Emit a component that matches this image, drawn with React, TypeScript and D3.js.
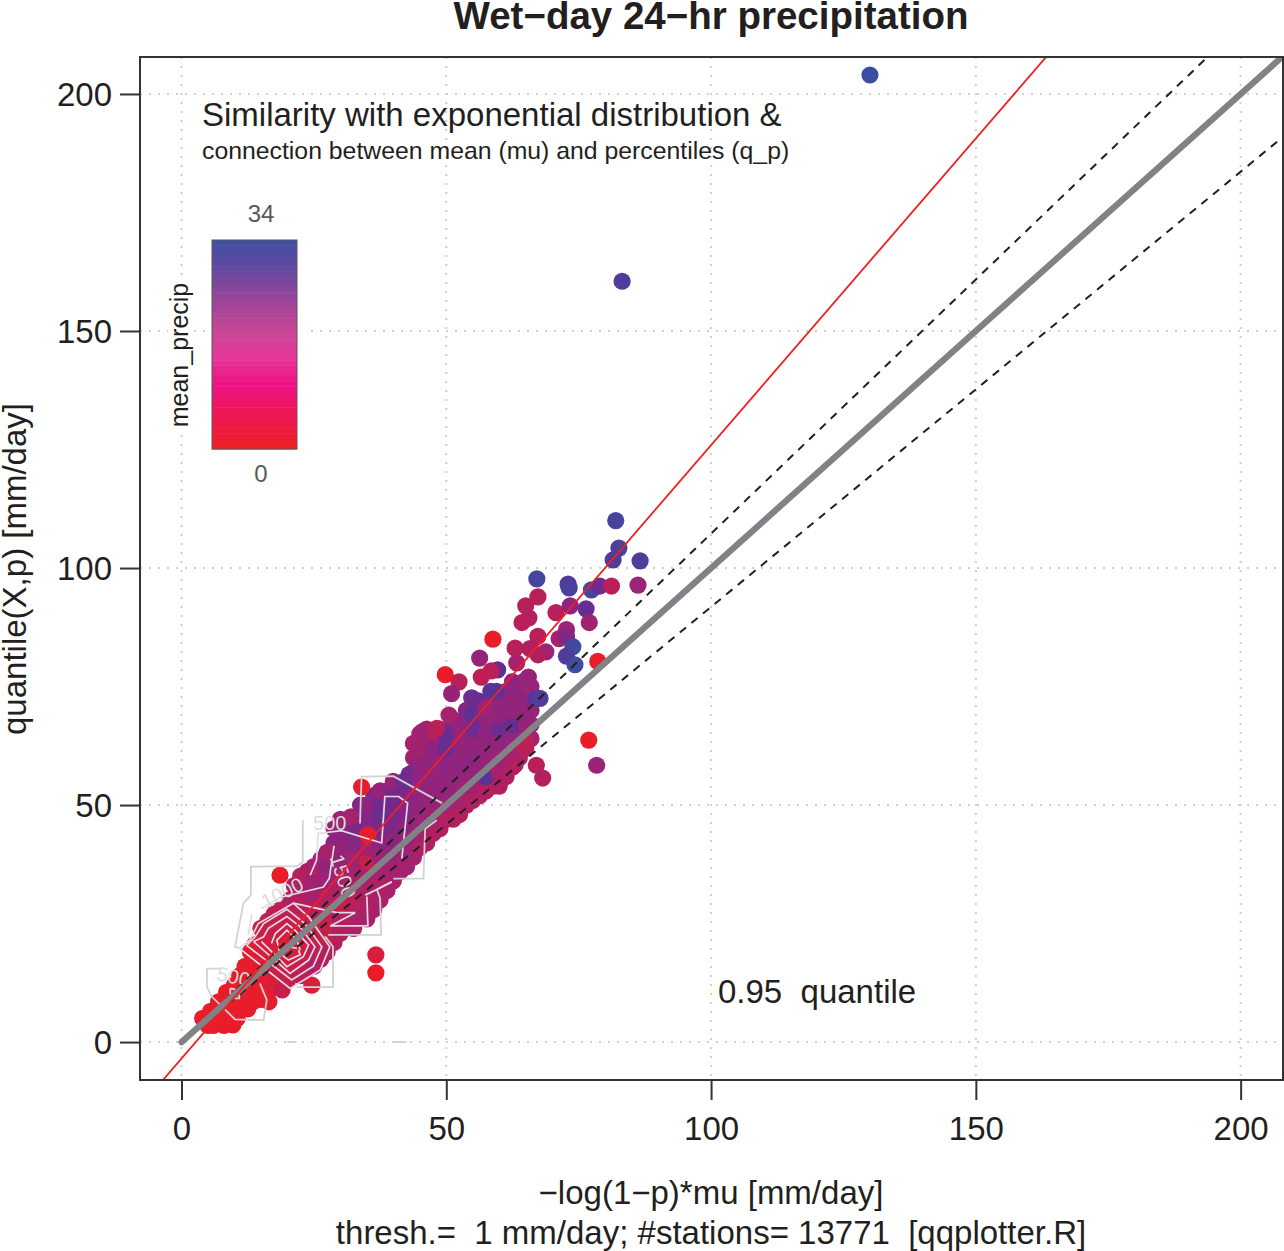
import { useRef, useEffect } from "react";
import * as d3 from "d3";

const width = 1284;
const height = 1251;
const margin = { top: 57, right: 1, bottom: 171, left: 140 };

const tickValues = [0, 50, 100, 150, 200];

// reference lines: [slope, intercept]
const redLine = [1.294, -3.47];
const upperDashed = [1.0725, 0];
const lowerDashed = [0.918, 0];
const greyLine = [1, 0];

// [x, y, mean_precip] stations packed in the core of the cloud, drawn first
const corePoints: [number, number, number][] = [
  [7, 6, 1], [8, 3.5, 1], [8.5, 10.5, 1], [10.5, 5, 1], [11, 11, 1], [11, 14, 2], [12.5, 7, 1], [13.5, 8.5, 2],
  [13.8, 11.5, 2], [13.8, 14.5, 2], [13.8, 17.5, 3], [13.8, 20.5, 5], [16.3, 10.5, 3], [16.3, 13.5, 3], [16.3, 16.5, 4], [16.3, 19.5, 5], [16.3, 22.5, 7], [16.3, 25.5, 9],
  [18.8, 13.5, 6], [18.8, 16.5, 6], [18.8, 19.5, 6], [18.8, 22.5, 7], [18.8, 25.5, 8], [18.8, 28, 10],
  [21.3, 15.5, 9], [21.3, 18.5, 7], [21.3, 21.5, 7], [21.3, 24.5, 8], [21.3, 27.5, 9], [21.3, 30.5, 11], [21.3, 33, 13],
  [23.8, 15.5, 11], [23.8, 18.5, 9], [23.8, 21.5, 8], [23.8, 24.5, 8], [23.8, 27.5, 10], [23.8, 30.5, 12], [23.8, 33.5, 15], [23.8, 36, 14],
  [26.3, 17.5, 12], [26.3, 20.5, 10], [26.3, 23.5, 9], [26.3, 26.5, 10], [26.3, 29.5, 12], [26.3, 32.5, 15], [26.3, 35.5, 17], [26.3, 38.5, 16],
  [28.8, 21, 12], [28.8, 24, 10], [28.8, 27, 9], [28.8, 30, 11], [28.8, 33, 15], [28.8, 36, 18], [28.8, 39, 19], [28.8, 42, 20], [28.8, 45, 18],
  [31.3, 24.5, 12], [31.3, 27.5, 12], [31.3, 30.5, 11], [31.3, 33.5, 14], [31.3, 36.5, 17], [31.3, 39.5, 20], [31.3, 42.5, 22], [31.3, 45.5, 22],
  [33.8, 26, 14], [33.8, 29, 13], [33.8, 32, 13], [33.8, 35, 15], [33.8, 38, 14], [33.8, 41, 19], [33.8, 44, 22], [33.8, 47, 24], [33.8, 50, 22],
  [36.3, 28, 14], [36.3, 31, 13], [36.3, 34, 14], [36.3, 37, 16], [36.3, 40, 18], [36.3, 43, 21], [36.3, 46, 24], [36.3, 49, 25], [36.3, 52, 22],
  [38.8, 32, 14], [38.8, 35, 15], [38.8, 38, 17], [38.8, 41, 19], [38.8, 44, 22], [38.8, 47, 24], [38.8, 50, 25], [38.8, 53, 22],
  [41.3, 36, 14], [41.3, 39, 16], [41.3, 42, 18], [41.3, 45, 20], [41.3, 48, 22], [41.3, 51, 23], [41.3, 54, 24],
  [43.8, 39, 14], [43.8, 42, 15], [43.8, 45, 17], [43.8, 48, 19], [43.8, 51, 20], [43.8, 54, 20], [43.8, 57, 19], [43.8, 60, 16], [43.8, 63, 15],
  [46.3, 42, 13], [46.3, 45, 15], [46.3, 48, 17], [46.3, 51, 19], [46.3, 54, 19], [46.3, 57, 19], [46.3, 60, 19], [46.3, 63, 18], [46.3, 66, 14],
  [48.8, 45, 12], [48.8, 48, 15], [48.8, 51, 18], [48.8, 54, 19], [48.8, 57, 19], [48.8, 60, 19], [48.8, 63, 20], [48.8, 66, 18],
  [51.3, 47, 12], [51.3, 50, 15], [51.3, 53, 18], [51.3, 56, 19], [51.3, 59, 19], [51.3, 62, 19], [51.3, 65, 19], [51.3, 68, 18],
  [53.8, 50, 12], [53.8, 53, 16], [53.8, 56, 18], [53.8, 59, 19], [53.8, 62, 19], [53.8, 65, 19], [53.8, 68, 20], [53.8, 70, 22],
  [56.3, 52, 13], [56.3, 55, 16], [56.3, 58, 18], [56.3, 61, 19], [56.3, 64, 19], [56.3, 67, 19], [56.3, 70, 20],
  [58.8, 54, 12], [58.8, 57, 15], [58.8, 60, 18], [58.8, 63, 19], [58.8, 66, 19], [58.8, 69, 19], [58.8, 72, 19],
  [61.3, 56, 12], [61.3, 59, 15], [61.3, 62, 18], [61.3, 65, 19], [61.3, 68, 19], [61.3, 71, 19], [61.3, 74, 20],
  [63.8, 60, 13], [63.8, 63, 16], [63.8, 66, 19], [63.8, 69, 19], [63.8, 72, 19], [63.8, 75, 20],
  [66, 64, 15], [66, 67, 18], [66, 70, 19], [66, 73, 19],
];

const bandPoints: [number, number, number][] = [
  [4, 5, 1], [5, 3.5, 1], [5.5, 6.5, 1], [6, 3.5, 1], [6.5, 5, 1], [7, 8.5, 1], [7.5, 4, 1], [8, 6.5, 1],
  [9.7, 3.6, 1], [9, 9, 1], [9.5, 6, 1], [10, 12, 1], [10.5, 8.5, 1], [11.5, 7, 1], [12, 10, 2], [12.5, 13, 2],
  [12, 16, 2], [13, 19, 3], [15, 9, 2], [15, 12, 2], [15, 15, 3], [15, 18, 5], [15, 21, 5], [15, 24, 8],
  [16.5, 8.5, 2], [17.5, 12, 4], [17.5, 15, 7], [17.5, 18, 5], [17.5, 21, 6], [17.5, 24, 8], [17.5, 27, 10],
  [19, 11, 8], [20, 13, 9], [20, 16, 7], [20, 19, 5], [20, 22, 6], [20, 25, 8], [20, 28, 10], [20.5, 30, 12],
  [22.5, 14, 11], [22.5, 17, 8], [22.5, 20, 6], [22.5, 23, 7], [22.5, 26, 9], [22.5, 29, 11], [22.5, 32, 14], [22.5, 35, 12],
  [25, 16, 13], [25, 19, 10], [25, 22, 8], [25, 25, 8], [25, 28, 11], [25, 31, 15], [25, 34, 16], [25, 37, 14],
  [27.5, 19, 12], [27.5, 22, 9], [27.5, 25, 8], [27.5, 28, 10], [27.5, 31, 13], [27.5, 34, 17], [27.5, 37, 19], [27.5, 40, 15],
  [30, 23, 12], [30, 26, 12], [30, 29, 8], [30, 32, 12], [30, 35, 15], [30, 38, 18], [30, 41, 18], [30, 44, 20], [30, 47, 17],
  [32.5, 24, 13], [32.5, 27, 13], [32.5, 30, 10], [32.5, 33, 13], [32.5, 36, 15], [32.5, 39, 17], [32.5, 42, 21], [32.5, 45, 23], [32, 47.5, 15],
  [35, 26, 14], [35, 29, 13], [35, 32, 13], [35, 35, 14], [35, 38, 9], [35, 41, 16], [35, 47, 22], [35, 50, 20],
  [37.5, 30, 14], [37.5, 33, 13], [37.5, 36, 15], [37.5, 39, 17], [37.5, 42, 20], [37.5, 45, 23], [37.5, 48, 25], [37.5, 51, 24], [37.5, 53, 18],
  [40, 34, 14], [40, 37, 15], [40, 40, 18], [40, 43, 20], [40, 46, 22], [40, 49, 24], [40, 52, 24], [40, 55, 18],
  [42.5, 37, 15], [42.5, 40, 17], [42.5, 43, 18], [42.5, 46, 20], [42.5, 49, 21], [42.5, 52, 22], [42, 55, 25], [43, 56.5, 24],
  [45, 41, 13], [45, 44, 15], [45, 47, 17], [45, 50, 19], [45, 53, 19], [45, 56, 20], [45, 59, 19], [45, 62, 16], [45, 65, 15],
  [47.5, 44, 12], [47.5, 47, 16], [47.5, 50, 18], [47.5, 53, 19], [47.5, 56, 19], [47.5, 59, 19], [47.5, 62, 20], [47.5, 65.5, 11],
  [50, 47, 12], [50, 50, 16], [50, 53, 19], [50, 56, 19], [50, 59, 20], [50, 62, 26], [50, 65, 26], [50.5, 69, 15],
  [52.5, 48, 12], [52.5, 51, 15], [52.5, 54, 18], [52.5, 57, 19], [52.5, 60, 19], [52.5, 63, 19], [52.5, 66, 19],
  [55, 51, 13], [55, 54, 16], [55, 57, 19], [55, 60, 20], [55, 63, 19], [55, 66, 25], [55, 69, 27], [56, 72, 26],
  [57.5, 53, 12], [57.5, 56, 28], [57.5, 59, 18], [57.5, 62, 19], [57.5, 65, 20], [57.5, 68, 19], [57.5, 70.5, 17],
  [60, 54, 12], [60, 57, 14], [60, 60, 17], [60, 63, 19], [60, 66, 25], [60, 69, 19], [60, 72, 19], [59.5, 74, 28],
  [62.5, 58, 13], [62.5, 61, 15], [62.5, 64, 19], [62.5, 67, 26], [62.5, 70, 19], [62.5, 73, 19], [62.5, 76, 20],
  [65, 62, 11], [65, 67, 18], [65, 70, 19], [65, 73, 20], [64.5, 76, 19], [66, 75, 17], [67, 72.5, 28], [65.5, 77, 18],
];

const outlierPoints: [number, number, number][] = [
  [130, 204, 34], [83.2, 160.5, 30], [82, 110, 32], [82.6, 104.2, 31], [81.5, 101.7, 30], [86.6, 101.5, 30],
  [67.1, 97.7, 32], [73, 96.6, 29], [73.2, 95.8, 31], [77.4, 95.4, 32], [79, 96.2, 25], [81.2, 96.2, 11], [86.2, 96.4, 17],
  [67.3, 93.9, 11], [65, 92, 11], [65.6, 89.5, 12], [64.3, 88.5, 11], [70.7, 90.6, 11], [73.4, 92, 20], [76.4, 91.4, 26],
  [77, 88.5, 16], [72.7, 87, 17], [71.3, 85.1, 15], [72.7, 85.5, 22], [73.9, 83.4, 33], [72.7, 81.4, 30], [74.3, 79.6, 33],
  [78.6, 80.3, 1], [67.3, 85.6, 11], [68.8, 82.3, 17], [65.8, 83, 12], [63, 83.1, 11], [67.3, 81.7, 12], [63.3, 80, 14],
  [58.8, 85, 1], [56.3, 81, 18], [59.7, 78.5, 27], [58.5, 78.3, 11], [56.6, 77, 10],
  [49.8, 77.5, 1], [52.4, 76, 11], [51, 73.5, 18], [54.8, 72.6, 25], [58.4, 74, 28], [67.7, 72.5, 30],
  [76.9, 63.7, 1], [78.4, 58.4, 17], [67, 58.4, 11], [68.2, 55.7, 12], [65, 63.4, 10], [63, 58.5, 12],
  [45.5, 65.5, 16], [48.2, 66.2, 11],
  [18.6, 35.2, 1], [24.6, 12, 5], [36.7, 18.4, 5], [36.7, 14.6, 1], [35.2, 43.7, 2], [34, 53.8, 2],
];

const dotColorDomain = [0, 3, 8, 14, 20, 27, 34];
const dotColorRange = ["#ee1c25", "#e11d30", "#c81f4a", "#a9216a", "#8e2480", "#5f2f96", "#3b4ea1"];

const legendStops = [0, 0.15, 0.3, 0.42, 0.55, 0.7, 0.85, 1];
const legendColors = ["#ee1f25", "#ee1654", "#ed1385", "#e8359a", "#c94696", "#9a4598", "#64499f", "#3c50a3"];

// contour pieces
const outerContours: [number, number][][] = [
  [[22.9, 46.8], [22.9, 38], [21.8, 37.1], [13.1, 37], [13.1, 31], [11.7, 29.3], [10.1, 20.1], [10.9, 19.8]],
  [[33.7, 46.1], [34, 56], [40, 56.1], [49.2, 50.4]],
  [[48.2, 46.8], [46, 45], [45.7, 34.5], [40, 34.5]],
  [[39.7, 33.8], [36.9, 32.2], [37.5, 30.3], [37.7, 22.6], [27.7, 22.6]],
  [[27.1, 22.3], [28.6, 20.1], [28.6, 11.6], [21.7, 11.6]],
  [[7.3, 15.5], [4.8, 15.5], [4.8, 11.6], [5.7, 9.6], [10.1, 4.8], [15.5, 4.6], [16.1, 8.9], [14.8, 12.4]],
  [[9.2, 11.3], [10.9, 11], [10.9, 9.2], [9.2, 9.2], [9.2, 11.3]],
  [[20, 0], [21.7, 0]],
  [[40, 0], [42.5, 0]],
];

const innerContours: [number, number][][] = [
  [[10.9, 19.8], [20.5, 11.3], [26.2, 15.2], [28, 20.1], [24, 26.4], [21.1, 29.3], [14.5, 25], [12.9, 21.5], [10.9, 19.8]],
  [[12.3, 20.4], [20.8, 13.1], [24.9, 16], [26.5, 20.1], [23.3, 25], [19.9, 28], [15.5, 25], [13.9, 22.2], [12.3, 20.4]],
  [[13.6, 21.2], [20.5, 14.5], [24, 17.3], [25.2, 20.1], [22.4, 24.3], [19.9, 26.5], [16.4, 24], [15.5, 22.2], [13.6, 21.2]],
  [[15.1, 21.2], [19.9, 15.9], [23, 18], [24, 20.5], [21.4, 23.6], [19.9, 25], [17.7, 22.9], [17, 20.8]],
  [[22.1, 19.4], [22.4, 18.4], [20.2, 17.3], [18.6, 18.7], [18, 21.5], [19.9, 23.6], [21.8, 21.5], [22.4, 19.4]],
  [[19.7, 20.2], [21.8, 19.8]],
  [[15.1, 28.2], [18.6, 30.5], [26.8, 32.7], [27.9, 34.5], [28.8, 41.4]],
  [[24.3, 35.2], [25.5, 38.4], [25.8, 44], [30.2, 44.6], [37.8, 42], [38.4, 51.8], [41, 51.8], [42.7, 50.4], [41.6, 38.7]],
  [[21.1, 29.3], [29.3, 27.3], [32.8, 27.3], [28.1, 24.5]],
  [[35, 30.7], [35.2, 24.5], [28.1, 24.5]],
  [[39.7, 33.8], [36.9, 32.2], [34.7, 31]],
  [[13.3, 27], [12.6, 22.6]],
];

// [x, y, rotation, text]
const contourLabels: [number, number, number, string][] = [
  [28, 46.2, 0, "500"],
  [19, 31.5, -27, "1000"],
  [30.5, 35, 72, "1500"],
  [9.8, 13.8, 12, "500"],
];

const xScale = d3.scaleLinear().domain([-7.84, 208]).range([margin.left, width - margin.right]);
const yScale = d3.scaleLinear().domain([-8, 207.8]).range([height - margin.bottom, margin.top]);
const dotColor = d3.scaleLinear<string>().domain(dotColorDomain).range(dotColorRange);
const legendColor = d3.scaleLinear<string>().domain(legendStops).range(legendColors);

const fontFamily = "'Liberation Sans', Arial, sans-serif";

// straight line clipped to the plot box by the clipPath
function linePath([slope, intercept]: number[], fromX: number) {
  const toX = 208;
  const line = d3.line<number>().x((d) => xScale(d)).y((d) => yScale(slope * d + intercept));
  return line([fromX, toX]) || "";
}

export default function App() {
  const svgRef = useRef<SVGSVGElement>(null);

  useEffect(() => {
    if (!svgRef.current) return;
    const svg = d3.select(svgRef.current);
    svg.select(".axes").selectAll("*").remove();
    const axes = svg.select(".axes");

    const style = (g: any) => {
      g.select(".domain").remove();
      g.selectAll(".tick line").attr("stroke", "#333").attr("stroke-width", 2);
      g.selectAll(".tick text").attr("fill", "#231f20").attr("font-size", 33).attr("font-family", fontFamily);
    };

    axes
      .append("g")
      .attr("transform", `translate(0, ${height - margin.bottom})`)
      .call(d3.axisBottom(xScale).tickValues(tickValues).tickSize(20).tickPadding(17).tickFormat(d3.format("d")) as any)
      .call(style);

    axes
      .append("g")
      .attr("transform", `translate(${margin.left}, 0)`)
      .call(d3.axisLeft(yScale).tickValues(tickValues).tickSize(20).tickPadding(8).tickFormat(d3.format("d")) as any)
      .call(style)
      .call((g: any) => g.selectAll(".tick text").attr("dy", "0.35em"));
  }, []);

  const contourLine = d3.line<[number, number]>().x((d) => xScale(d[0])).y((d) => yScale(d[1]));

  return (
    <svg
      ref={svgRef}
      width={width}
      height={height}
      viewBox={`0 0 ${width} ${height}`}
      style={{ position: "absolute", left: 0, top: 0, background: "#fff" }}
      fontFamily={fontFamily}
    >
      <defs>
        <clipPath id="plot-box">
          <rect x={margin.left} y={margin.top} width={width - margin.left - margin.right} height={height - margin.top - margin.bottom} />
        </clipPath>
      </defs>

      {/* dotted grid */}
      <g stroke="#cfcfcf" strokeWidth={2} strokeDasharray="2 7">
        {tickValues.map((t) => (
          <line key={`v${t}`} x1={xScale(t)} x2={xScale(t)} y1={margin.top} y2={height - margin.bottom} />
        ))}
        {tickValues.map((t) => (
          <line key={`h${t}`} x1={margin.left} x2={width - margin.right} y1={yScale(t)} y2={yScale(t)} />
        ))}
      </g>

      <g clipPath="url(#plot-box)">
        {[...corePoints, ...bandPoints, ...outlierPoints].map((d, i) => (
          <circle key={i} cx={xScale(d[0])} cy={yScale(d[1])} r={8.6} fill={dotColor(d[2])} />
        ))}

        <g fill="none" stroke="#d2d2d2" strokeWidth={1.8}>
          {outerContours.map((c, i) => (
            <path key={i} d={contourLine(c) || ""} />
          ))}
        </g>
        <g fill="none" stroke="#e4dce2" strokeWidth={1.7}>
          {innerContours.map((c, i) => (
            <path key={i} d={contourLine(c) || ""} />
          ))}
        </g>
        <g fill="#dcdcdc" fontSize={20} textAnchor="middle">
          {contourLabels.map((l, i) => (
            <text key={i} transform={`translate(${xScale(l[0])},${yScale(l[1])}) rotate(${l[2]})`} dy={7}>
              {l[3]}
            </text>
          ))}
        </g>

        <path d={linePath(upperDashed, 0)} fill="none" stroke="#231f20" strokeWidth={2} strokeDasharray="8 7" />
        <path d={linePath(lowerDashed, 0)} fill="none" stroke="#231f20" strokeWidth={2} strokeDasharray="8 7" />
        <path d={linePath(greyLine, 0)} fill="none" stroke="#808285" strokeWidth={6.3} strokeLinecap="round" />
        <path d={linePath(redLine, -3.6)} fill="none" stroke="#ee2024" strokeWidth={1.8} />
      </g>

      {/* legend */}
      <rect x={168} y={281} width={25} height={148} fill="#fff" />
      <rect x={205} y={233} width={99} height={223} fill="#fff" />
      {d3.range(0, 40).map((t) => (
        <rect key={t} x={212} y={449 - ((t + 1) / 40) * 209} width={85} height={209 / 40 + 0.5} fill={legendColor(t / 40)} />
      ))}
      <rect x={212} y={240} width={85} height={209} fill="none" stroke="#58595b" strokeWidth={1} />
      <text x={261} y={222} textAnchor="middle" fontSize={24} fill="#58595b">34</text>
      <text x={261} y={482} textAnchor="middle" fontSize={24} fill="#58595b">0</text>
      <text transform="translate(188,355) rotate(-90)" textAnchor="middle" fontSize={25} fill="#231f20">mean_precip</text>

      <rect x={margin.left} y={margin.top} width={width - margin.left - margin.right} height={height - margin.top - margin.bottom} fill="none" stroke="#333" strokeWidth={2} />
      <g className="axes" />

      <text x={711} y={29} textAnchor="middle" fontSize={38.5} fontWeight="bold" fill="#231f20">Wet−day 24−hr precipitation</text>
      <text x={202} y={126} fontSize={33} fill="#231f20">Similarity with exponential distribution &amp;</text>
      <text x={202} y={159} fontSize={24.8} fill="#231f20">connection between mean (mu) and percentiles (q_p)</text>
      <text x={718} y={1003} fontSize={33} fill="#231f20" xmlSpace="preserve">0.95  quantile</text>
      <text x={711} y={1204} textAnchor="middle" fontSize={33} fill="#231f20">−log(1−p)*mu [mm/day]</text>
      <text x={711} y={1244} textAnchor="middle" fontSize={33} fill="#231f20" xmlSpace="preserve">thresh.=  1 mm/day; #stations= 13771  [qqplotter.R]</text>
      <text transform="translate(26,569) rotate(-90)" textAnchor="middle" fontSize={33} fill="#231f20">quantile(X,p) [mm/day]</text>
    </svg>
  );
}
